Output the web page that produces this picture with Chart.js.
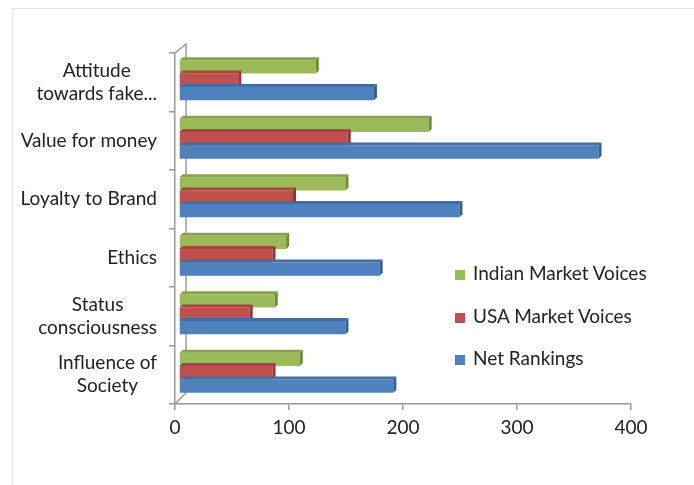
<!DOCTYPE html>
<html lang="en">
<head>
    <meta charset="UTF-8">
    <title>Consumer attitudes</title>
    <script src="https://cdn.jsdelivr.net/npm/chart.js"></script>
    <style>
        body {
            margin: 0;
            background: #fff;
            font-family: Lato, sans-serif;
        }
        .wrap {
            position: relative;
            width: 694px;
            height: 485px;
            overflow: hidden;
        }
        .frame {
            position: absolute;
            left: 12px;
            top: 8px;
            width: 800px;
            height: 600px;
            border: 1px solid #e6e6e6;
        }
        canvas {
            position: absolute;
            left: 0;
            top: 0;
        }
        .legend {
            position: absolute;
            left: 455px;
            top: 260px;
            font-size: 19px;
            color: #222;
        }
        .legend div {
            height: 42.5px;
            line-height: 26px;
            white-space: nowrap;
        }
        .legend span {
            display: inline-block;
            width: 10px;
            height: 10px;
            margin-right: 8px;
        }
    </style>
</head>
<body>
    <div class="wrap">
        <div class="frame"></div>
        <canvas id="chart" width="694" height="485"></canvas>
        <div class="legend" id="legend"></div>
    </div>

    <script>
        const categories = [
            ["Attitude", "towards fake..."],
            "Value for money",
            "Loyalty to Brand",
            "Ethics",
            ["Status", "consciousness"],
            ["Influence of", "Society"]
        ];
        const seriesNames = ["Indian Market Voices", "USA Market Voices", "Net Rankings"];
        const indianVoices = [120, 219, 146, 94, 84, 106];
        const usaVoices = [52, 148, 100, 82, 62, 82];
        const netRankings = [171, 368, 246, 176, 146, 188];
        const xTicks = [0, 100, 200, 300, 400];

        const colors = ["#9BBB59", "#C0504D", "#4F81BD"];
        const sideColors = ["#71893F", "#8C3836", "#385D8A"];
        const topColors = ["#86A34B", "#A84542", "#426EA3"];

        const font = { family: "Lato, sans-serif", size: 19 };

        // fake 3d look: shift the bars a bit and add top/side faces
        const depth = 3;
        const bars3d = {
            id: "bars3d",
            beforeDatasetsDraw(chart) {
                chart.ctx.save();
                chart.ctx.translate(4, -2);
            },
            afterDatasetsDraw(chart) {
                const ctx = chart.ctx;
                chart.data.datasets.forEach((ds, i) => {
                    chart.getDatasetMeta(i).data.forEach(bar => {
                        const x0 = bar.base, x1 = bar.x;
                        const y0 = bar.y - bar.height / 2, y1 = bar.y + bar.height / 2;
                        ctx.fillStyle = topColors[i];
                        ctx.beginPath();
                        ctx.moveTo(x0, y0);
                        ctx.lineTo(x0 + depth, y0 - depth);
                        ctx.lineTo(x1 + depth, y0 - depth);
                        ctx.lineTo(x1, y0);
                        ctx.closePath();
                        ctx.fill();
                        ctx.fillStyle = sideColors[i];
                        ctx.beginPath();
                        ctx.moveTo(x1, y0);
                        ctx.lineTo(x1 + depth, y0 - depth);
                        ctx.lineTo(x1 + depth, y1 - depth);
                        ctx.lineTo(x1, y1);
                        ctx.closePath();
                        ctx.fill();
                    });
                });
                ctx.restore();
            },
            beforeDraw(chart) {
                // back wall of the value axis
                const ctx = chart.ctx;
                const a = chart.chartArea;
                ctx.save();
                ctx.strokeStyle = "#9a9a9a";
                ctx.lineWidth = 1.5;
                ctx.beginPath();
                ctx.moveTo(a.left, a.top);
                ctx.lineTo(a.left + 11, a.top - 9);
                ctx.lineTo(a.left + 11, a.bottom - 11);
                ctx.lineTo(a.left, a.bottom);
                ctx.stroke();
                ctx.restore();
            },
            afterDraw(chart) {
                // category labels: lines centred on each other, block right aligned
                const ctx = chart.ctx;
                const y = chart.scales.y;
                const right = y.right - 6 - 12;
                const lineH = 23;
                ctx.save();
                ctx.font = font.size + "px " + font.family;
                ctx.fillStyle = "#222";
                ctx.textAlign = "center";
                ctx.textBaseline = "middle";
                categories.forEach((lab, i) => {
                    const lines = Array.isArray(lab) ? lab : [lab];
                    const widest = Math.max(...lines.map(l => ctx.measureText(l).width));
                    const cx = right - widest / 2;
                    const cy = y.getPixelForTick(i);
                    lines.forEach((l, k) => {
                        ctx.fillText(l, cx, cy + (k - (lines.length - 1) / 2) * lineH);
                    });
                });
                ctx.restore();
            }
        };

        const chart = new Chart(document.getElementById("chart"), {
            type: "bar",
            data: {
                labels: categories,
                datasets: seriesNames.map((name, i) => ({
                    label: name,
                    data: [indianVoices, usaVoices, netRankings][i],
                    backgroundColor: colors[i],
                    borderWidth: 0,
                    categoryPercentage: 0.68,
                    barPercentage: 1.0
                }))
            },
            options: {
                indexAxis: "y",
                responsive: false,
                animation: false,
                layout: {
                    padding: { left: 0, top: 53, right: 63, bottom: 41 }
                },
                plugins: {
                    legend: { display: false },
                    tooltip: { enabled: false }
                },
                scales: {
                    x: {
                        min: 0,
                        max: 400,
                        afterBuildTicks(scale) {
                            scale.ticks = xTicks.map(v => ({ value: v }));
                        },
                        afterFit(scale) {
                            scale.height = 40;
                        },
                        grid: {
                            drawOnChartArea: false,
                            tickLength: 6,
                            color: "#9a9a9a",
                            lineWidth: 1.5
                        },
                        border: { color: "#9a9a9a", width: 1.5 },
                        ticks: {
                            color: "#222",
                            font: font,
                            padding: 6,
                            maxRotation: 0
                        }
                    },
                    y: {
                        afterFit(scale) {
                            scale.width = 175;
                        },
                        grid: {
                            drawOnChartArea: false,
                            offset: true,
                            tickLength: 6,
                            color: "#9a9a9a",
                            lineWidth: 1.5
                        },
                        border: { color: "#9a9a9a", width: 1.5 },
                        ticks: {
                            display: false
                        }
                    }
                }
            },
            plugins: [bars3d]
        });

        const legendBox = document.getElementById("legend");
        seriesNames.forEach((name, i) => {
            const row = document.createElement("div");
            const sw = document.createElement("span");
            sw.style.background = colors[i];
            row.appendChild(sw);
            row.appendChild(document.createTextNode(name));
            legendBox.appendChild(row);
        });
    </script>
</body>
</html>
